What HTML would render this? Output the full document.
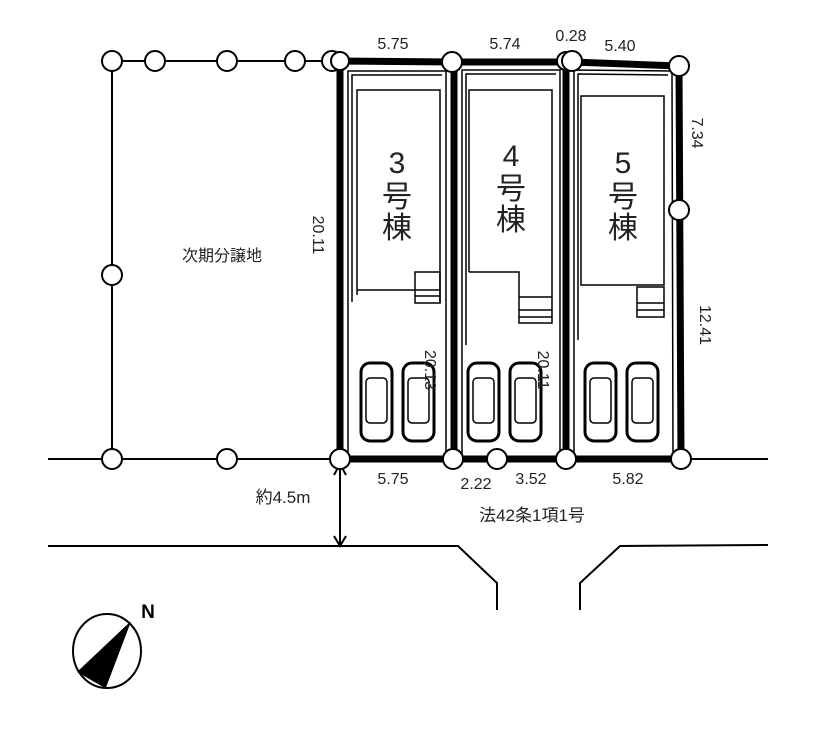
<!DOCTYPE html>
<html><head><meta charset="utf-8"><style>
body{margin:0;background:#fff}
svg{display:block}
text{font-family:"Liberation Sans","Noto Sans CJK JP",sans-serif;fill:#222}
</style></head><body>
<svg width="832" height="750" viewBox="0 0 832 750" xmlns="http://www.w3.org/2000/svg">
<g stroke="#000" fill="none">
<polyline points="112,61 340,61" stroke-width="2"/>
<line x1="112" y1="61" x2="112" y2="459" stroke-width="2"/>
<line x1="48" y1="459" x2="768" y2="459" stroke-width="2"/>
<polyline points="336,61 452,62 572,62 679,66 681,459 340,459 340,61" stroke-width="7"/>
<line x1="454" y1="62" x2="454" y2="459" stroke-width="7"/>
<line x1="566" y1="62" x2="566" y2="459" stroke-width="7"/>
<g stroke-width="1.5">
<polyline points="348,458 348,71 446,71 446,458"/>
<polyline points="352,302 352,75 442,75"/>
<polyline points="462,458 462,70 560,70 560,458"/>
<polyline points="466,345 466,74 556,74"/>
<polyline points="574,458 574,70 672,71 673,458"/>
<polyline points="578,340 578,74 668,75"/>
<polyline points="357,295 357,90 440,90 440,303"/>
<line x1="357" y1="290" x2="415" y2="290"/>
<rect x="415" y="272" width="25" height="31"/>
<line x1="415" y1="290" x2="440" y2="290"/><line x1="415" y1="296" x2="440" y2="296"/>
<polyline points="469,272 469,90 552,90 552,323 519,323 519,272 469,272"/>
<line x1="519" y1="297" x2="552" y2="297"/><line x1="519" y1="310" x2="552" y2="310"/><line x1="519" y1="317" x2="552" y2="317"/>
<rect x="581" y="96" width="83" height="189"/>
<rect x="637" y="287" width="27" height="30"/>
<line x1="637" y1="303" x2="664" y2="303"/><line x1="637" y1="310" x2="664" y2="310"/>
<polyline points="48,546 458,546 497,583 497,610" stroke-width="2"/>
<polyline points="580,610 580,583 620,546 768,545" stroke-width="2"/>
<line x1="340" y1="465" x2="340" y2="545" stroke-width="2"/>
<polyline points="334,475 340,464 346,475" stroke-width="2"/>
<polyline points="334,536 340,546 346,536" stroke-width="2"/>
</g>
<g stroke-width="3">
<rect x="361" y="363" width="31" height="78" rx="9"/>
<rect x="403" y="363" width="31" height="78" rx="9"/>
<rect x="468" y="363" width="31" height="78" rx="9"/>
<rect x="510" y="363" width="31" height="78" rx="9"/>
<rect x="585" y="363" width="31" height="78" rx="9"/>
<rect x="627" y="363" width="31" height="78" rx="9"/>
</g>
<g stroke-width="1.5">
<rect x="366" y="378" width="21" height="45" rx="4"/><rect x="408" y="378" width="21" height="45" rx="4"/>
<rect x="473" y="378" width="21" height="45" rx="4"/><rect x="515" y="378" width="21" height="45" rx="4"/>
<rect x="590" y="378" width="21" height="45" rx="4"/><rect x="632" y="378" width="21" height="45" rx="4"/>
</g>
<g fill="#fff" stroke-width="2">
<circle cx="112" cy="61" r="10"/><circle cx="155" cy="61" r="10"/><circle cx="227" cy="61" r="10"/><circle cx="295" cy="61" r="10"/><circle cx="332" cy="61" r="10"/><circle cx="340" cy="61" r="9"/>
<circle cx="112" cy="275" r="10"/>
<circle cx="112" cy="459" r="10"/><circle cx="227" cy="459" r="10"/><circle cx="340" cy="459" r="10"/><circle cx="453" cy="459" r="10"/><circle cx="497" cy="459" r="10"/><circle cx="566" cy="459" r="10"/><circle cx="681" cy="459" r="10"/>
<circle cx="452" cy="62" r="10"/><circle cx="566" cy="61" r="9"/><circle cx="572" cy="61" r="10"/><circle cx="679" cy="66" r="10"/><circle cx="679" cy="210" r="10"/>
</g>
<ellipse cx="107" cy="651" rx="34" ry="37" fill="#fff" stroke-width="2"/>
<polygon points="130,622 77,672 105,688" fill="#000" stroke="none"/>
<line x1="130" y1="622" x2="105" y2="688" stroke-width="1.5"/>
</g>
<text x="148" y="618" font-size="19" font-weight="bold" text-anchor="middle" style="fill:#000">N</text>
<g font-size="16" text-anchor="middle">
<text x="393" y="49">5.75</text><text x="505" y="49">5.74</text><text x="571" y="41">0.28</text><text x="620" y="51">5.40</text>
<text x="393" y="484">5.75</text><text x="476" y="489">2.22</text><text x="531" y="484">3.52</text><text x="628" y="484">5.82</text>
<text x="222" y="261">次期分譲地</text>
<text x="283" y="503" font-size="17">約4.5m</text>
<text x="532" y="521" font-size="17">法42条1項1号</text>
<text transform="translate(692,133) rotate(90)">7.34</text>
<text transform="translate(313,235) rotate(90)">20.11</text>
<text transform="translate(700,325) rotate(90)">12.41</text>
<text transform="translate(425,370) rotate(90)">20.13</text>
<text transform="translate(538,370) rotate(90)">20.11</text>
</g>
<g font-size="30" text-anchor="middle">
<text x="397" y="173">3</text><text x="397" y="207">号</text><text x="397" y="238">棟</text>
<text x="511" y="166">4</text><text x="511" y="199">号</text><text x="511" y="230">棟</text>
<text x="623" y="173">5</text><text x="623" y="207">号</text><text x="623" y="238">棟</text>
</g>
</svg>
</body></html>
